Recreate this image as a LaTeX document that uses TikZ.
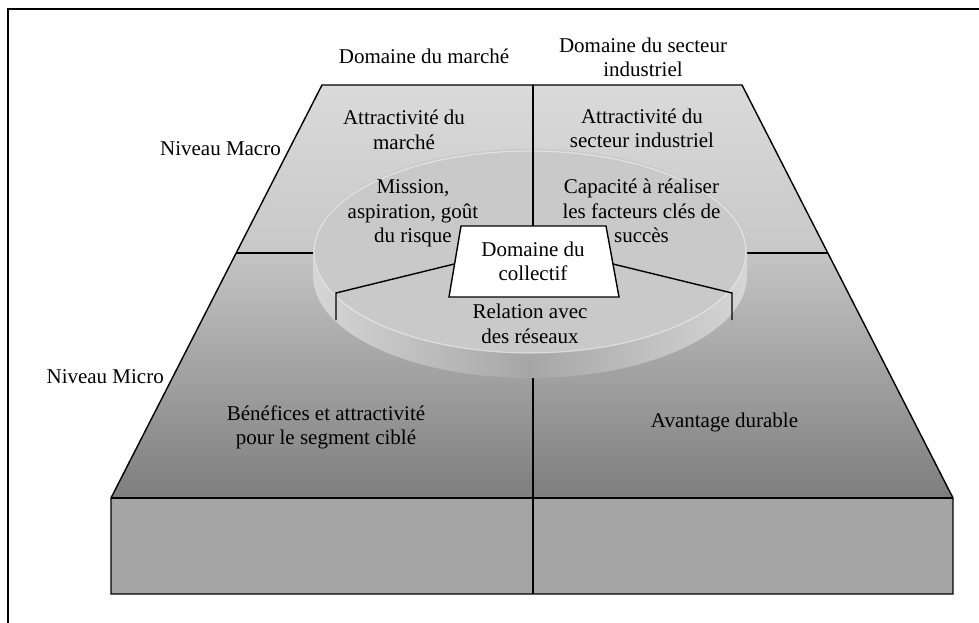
\documentclass[tikz,border=0pt]{standalone}
\usepackage{fontspec}
\setmainfont{Liberation Serif}
\definecolor{faceA}{HTML}{DADADA}
\definecolor{faceB}{HTML}{C8C8C8}
\definecolor{faceC}{HTML}{C4C4C4}
\definecolor{faceD}{HTML}{7E7E7E}
\definecolor{boxgray}{HTML}{A5A5A5}
\definecolor{disctop}{HTML}{C9C9C9}
\definecolor{discside}{HTML}{A6A6A6}
\definecolor{discedge}{HTML}{D6D6D6}
\begin{document}
\begin{tikzpicture}[x=1pt,y=-1pt,
  lbl/.style={font=\fontsize{21}{24.5}\selectfont, align=center, inner sep=0pt},
  edge/.style={line width=1.4pt, draw=black, line join=miter},
]
\useasboundingbox (0,0) rectangle (979,623);
\fill[white] (0,0) rectangle (979,623);
% frame
\draw[line width=2pt] (8,630) -- (8,9) -- (985,9);

% geometry
\coordinate (TL) at (322,85);
\coordinate (TR) at (742,85);
\coordinate (ML) at (236.2,253);
\coordinate (MR) at (827.8,253);
\coordinate (BL) at (111,498);
\coordinate (BR) at (953,498);
\coordinate (FL) at (111,594);
\coordinate (FR) at (953,594);

% top face
\shade[top color=faceA, bottom color=faceB] (TL) -- (TR) -- (MR) -- (ML) -- cycle;
\shade[top color=faceC, bottom color=faceD] (ML) -- (MR) -- (BR) -- (BL) -- cycle;
% front box
\fill[boxgray] (BL) rectangle (FR);
\draw[edge] (TL) -- (TR) -- (BR) -- (FR) -- (FL) -- (BL) -- cycle;
\draw[edge] (BL) -- (BR);

% dividers
\coordinate (DL) at (313,253);
\coordinate (DR) at (747,253);
\draw[edge] (ML) -- (DL);
\draw[edge] (DR) -- (MR);
\coordinate (VB) at (533,377);
\coordinate (VE) at (533,594);
\draw[edge] (VB) -- (VE);

% disc
\shade[left color=discedge, right color=discedge, middle color=discside]
  (313,251) -- (313,276) arc[start angle=180, end angle=360, x radius=217, y radius=-102] -- (747,251) -- cycle;
\fill[disctop] (530,251) ellipse[x radius=217, y radius=102];
\draw[white, opacity=0.45, line width=1.2pt] (530,252) ellipse[x radius=216, y radius=101];

% central vertical line
\coordinate (VT) at (533,85);
\coordinate (VM) at (533,226);
\draw[edge] (VT) -- (VM);

% collective trapezoid
\coordinate (cTL) at (461,226);
\coordinate (cTR) at (606,226);
\coordinate (cBR) at (619,297);
\coordinate (cBL) at (449,297);
\draw[edge, fill=white] (cTL) -- (cTR) -- (cBR) -- (cBL) -- cycle;

% spokes
\coordinate (sL0) at (454.3,264);
\coordinate (sL1) at (336,293);
\coordinate (sL2) at (336,320);
\coordinate (sR0) at (612.9,264);
\coordinate (sR1) at (732,293);
\coordinate (sR2) at (732,320);
\draw[edge] (sL0) -- (sL1) -- (sL2);
\draw[edge] (sR0) -- (sR1) -- (sR2);

% labels
\node[lbl] (dmarche) at (424,56) {Domaine du marché};
\node[lbl] (dsecteur) at (643,57.5) {Domaine du secteur\\industriel};
\node[lbl, anchor=east] (macro) at (281,149) {Niveau Macro};
\node[lbl, anchor=east] (micro) at (164,377) {Niveau Micro};
\node[lbl] (amarche) at (404,130) {Attractivité du\\marché};
\node[lbl] (asecteur) at (642,128.5) {Attractivité du\\secteur industriel};
\node[lbl] (mission) at (413,213.5) {Mission,\\aspiration, goût\\du risque};
\node[lbl] (capacite) at (641.5,211) {Capacité à réaliser\\les facteurs clés de\\succès};
\node[lbl] (collectif) at (533,261.5) {Domaine du\\collectif};
\node[lbl] (relation) at (530,324) {Relation avec\\des réseaux};
\node[lbl] (benefices) at (326,427.5) {Bénéfices et attractivité\\pour le segment ciblé};
\node[lbl] (avantage) at (724.5,422) {Avantage durable};
\end{tikzpicture}
\end{document}
